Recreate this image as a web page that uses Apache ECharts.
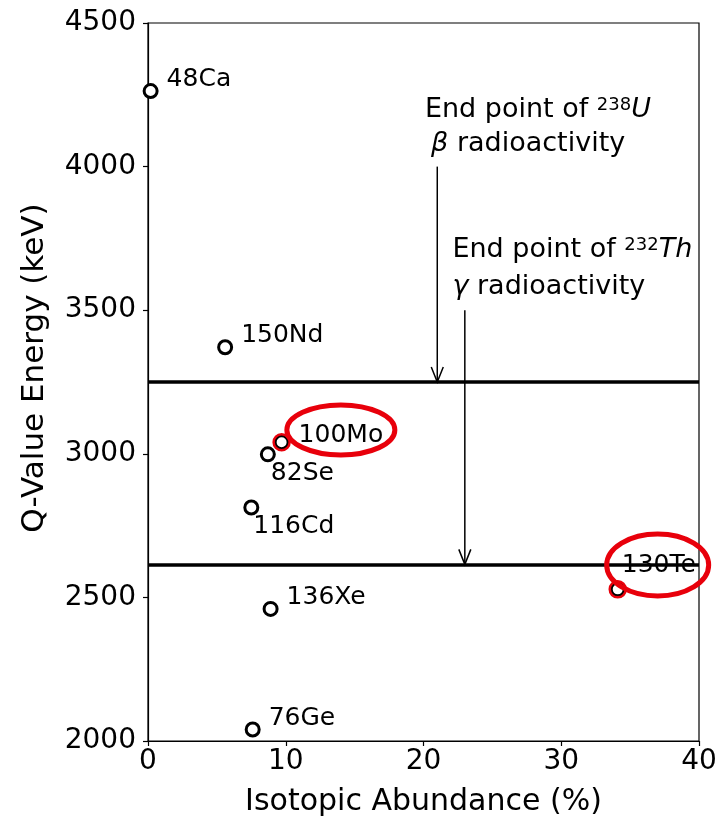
<!DOCTYPE html>
<html>
<head>
<meta charset="utf-8">
<script src="https://cdn.jsdelivr.net/npm/echarts@6/dist/echarts.min.js"></script>
<style>
  html, body { margin: 0; padding: 0; background: #fff; }
  #chart { width: 721px; height: 816px; }
</style>
</head>
<body>
<div id="chart"></div>
<script>
// isotope data: abundance (%) vs Q-value (keV)
const isotopes = ['48Ca', '150Nd', '100Mo', '82Se', '116Cd', '136Xe', '76Ge', '130Te']
const abundance = [0.19, 5.6, 9.7, 8.7, 7.5, 8.9, 7.6, 34.1]
const qValue = [4263, 3371, 3040, 2998, 2813, 2460, 2040, 2528]
const highlighted = ['100Mo', '130Te']

// background end-point lines
const endPoints = [3250, 2615]

// arrows: x, top, tip
const arrowX = [21.0, 23.0]
const arrowTop = [4000, 3500]
const arrowTip = [3250, 2615]

// annotation text anchors
const noteText = [
  '{n|End point of }{sup|238}{it|U}',
  '{it|β}{n| radioactivity}',
  '{n|End point of }{sup|232}{it|Th}',
  '{it|γ}{n| radioactivity}'
]
const noteX = [20.1, 20.55, 22.1, 22.1]
const noteY = [4197, 4079, 3710, 3581]

// highlight ellipse centres
const ellipseX = [14.0, 37.0]
const ellipseY = [3083, 2613]

// layout-only settings (pixels)
const labelOffsets = [[3, -12], [3, -12], [4, -7], [-10, 19], [-11, 19], [3, -11], [3, -11], [-16, -24]]
const ellipseRadii = [[54, 25], [51, 31]]

const FONT = 'DejaVu Sans'
const chart = echarts.init(document.getElementById('chart'))

const pointData = isotopes.map((name, i) => {
  const item = {name, value: [abundance[i], qValue[i]], label: {offset: labelOffsets[i]}}
  if (name === '130Te') {
    item.label.backgroundColor = '#fff'
    item.label.padding = [3, 2, 3, 7]
  }
  return item
})

const highlightData = isotopes
  .map((name, i) => ({name, value: [abundance[i], qValue[i]]}))
  .filter(d => highlighted.includes(d.name))

const option = {
  animation: false,
  backgroundColor: '#fff',
  grid: {
    left: 148,
    right: 22,
    top: 23,
    bottom: 75,
    outerBoundsMode: 'none',
    containLabel: false,
    show: true,
    borderColor: '#000',
    borderWidth: 1.2,
  },
  xAxis: {
    type: 'value',
    min: 0,
    max: 40,
    interval: 10,
    name: 'Isotopic Abundance (%)',
    nameLocation: 'middle',
    nameGap: 46,
    nameTextStyle: {fontFamily: FONT, fontSize: 30, color: '#000'},
    axisLine: {show: true, lineStyle: {color: '#000', width: 1.2}},
    axisTick: {show: true, length: 5, lineStyle: {color: '#000', width: 1.2}},
    axisLabel: {fontFamily: FONT, fontSize: 28, color: '#000', margin: 7},
    splitLine: {show: false},
  },
  yAxis: {
    type: 'value',
    min: 2000,
    max: 4500,
    interval: 500,
    name: 'Q-Value Energy (keV)',
    nameLocation: 'middle',
    nameGap: 98,
    nameTextStyle: {fontFamily: FONT, fontSize: 31, color: '#000', padding: [0, 0, 0, 28]},
    axisLine: {show: true, lineStyle: {color: '#000', width: 1.2}},
    axisTick: {show: true, length: 5, lineStyle: {color: '#000', width: 1.2}},
    axisLabel: {fontFamily: FONT, fontSize: 28, color: '#000', margin: 12, formatter: v => String(v)},
    splitLine: {show: false},
  },
  series: [
    {
      // horizontal end-point lines
      type: 'line',
      data: [],
      z: 1,
      markLine: {
        silent: true,
        symbol: 'none',
        label: {show: false},
        lineStyle: {color: '#000', width: 3.5, type: 'solid'},
        data: endPoints.map(v => ({yAxis: v})),
      },
    },
    {
      // arrows
      type: 'custom',
      z: 2,
      data: arrowX.map((x, i) => [x, arrowTop[i], arrowTip[i]]),
      encode: {x: 0, y: [1, 2]},
      renderItem: (params, api) => {
        const top = api.coord([api.value(0), api.value(1)])
        const tip = api.coord([api.value(0), api.value(2)])
        return {
          type: 'group',
          children: [
            {type: 'line', shape: {x1: top[0], y1: top[1], x2: tip[0], y2: tip[1]}, style: {stroke: '#000', lineWidth: 1.5}},
            {
              type: 'polyline',
              shape: {points: [[tip[0] - 6, tip[1] - 15], [tip[0], tip[1]], [tip[0] + 6, tip[1] - 15]]},
              style: {stroke: '#000', lineWidth: 1.5, fill: null},
            },
          ],
        }
      },
    },
    {
      // isotope points
      type: 'scatter',
      z: 3,
      symbol: 'circle',
      symbolSize: 13,
      itemStyle: {color: '#fff', borderColor: '#000', borderWidth: 3, opacity: 1},
      label: {
        show: true,
        position: 'right',
        formatter: p => p.name,
        fontFamily: FONT,
        fontSize: 25,
        color: '#000',
      },
      data: pointData,
    },
    {
      // red highlighted points
      type: 'scatter',
      z: 4,
      symbol: 'circle',
      symbolSize: 16,
      itemStyle: {color: 'rgba(0,0,0,0)', borderColor: '#e8000b', borderWidth: 2.5, opacity: 1},
      data: highlightData,
    },
    {
      // red ellipses
      type: 'custom',
      z: 5,
      data: ellipseX.map((x, i) => [x, ellipseY[i]]),
      renderItem: (params, api) => {
        const c = api.coord([api.value(0), api.value(1)])
        const r = ellipseRadii[params.dataIndex]
        return {
          type: 'ellipse',
          shape: {cx: c[0], cy: c[1], rx: r[0], ry: r[1]},
          style: {stroke: '#e8000b', lineWidth: 5, fill: null},
        }
      },
    },
    {
      // annotation texts
      type: 'scatter',
      z: 6,
      symbolSize: 0,
      silent: true,
      itemStyle: {opacity: 1},
      data: noteX.map((x, i) => [x, noteY[i]]),
      label: {
        show: true,
        position: 'right',
        distance: 0,
        formatter: p => noteText[p.dataIndex],
        fontFamily: FONT,
        fontSize: 27,
        color: '#000',
        rich: {
          n: {fontFamily: FONT, fontSize: 27, color: '#000'},
          sup: {fontFamily: FONT, fontSize: 18, color: '#000', verticalAlign: 'top', padding: [0, 0, 10, 0]},
          it: {fontFamily: FONT, fontSize: 27, fontStyle: 'italic', color: '#000'},
        },
      },
    },
  ],
}

chart.setOption(option)

const handleResize = () => {
  chart.resize()
}
window.addEventListener('resize', handleResize)
</script>
</body>
</html>
